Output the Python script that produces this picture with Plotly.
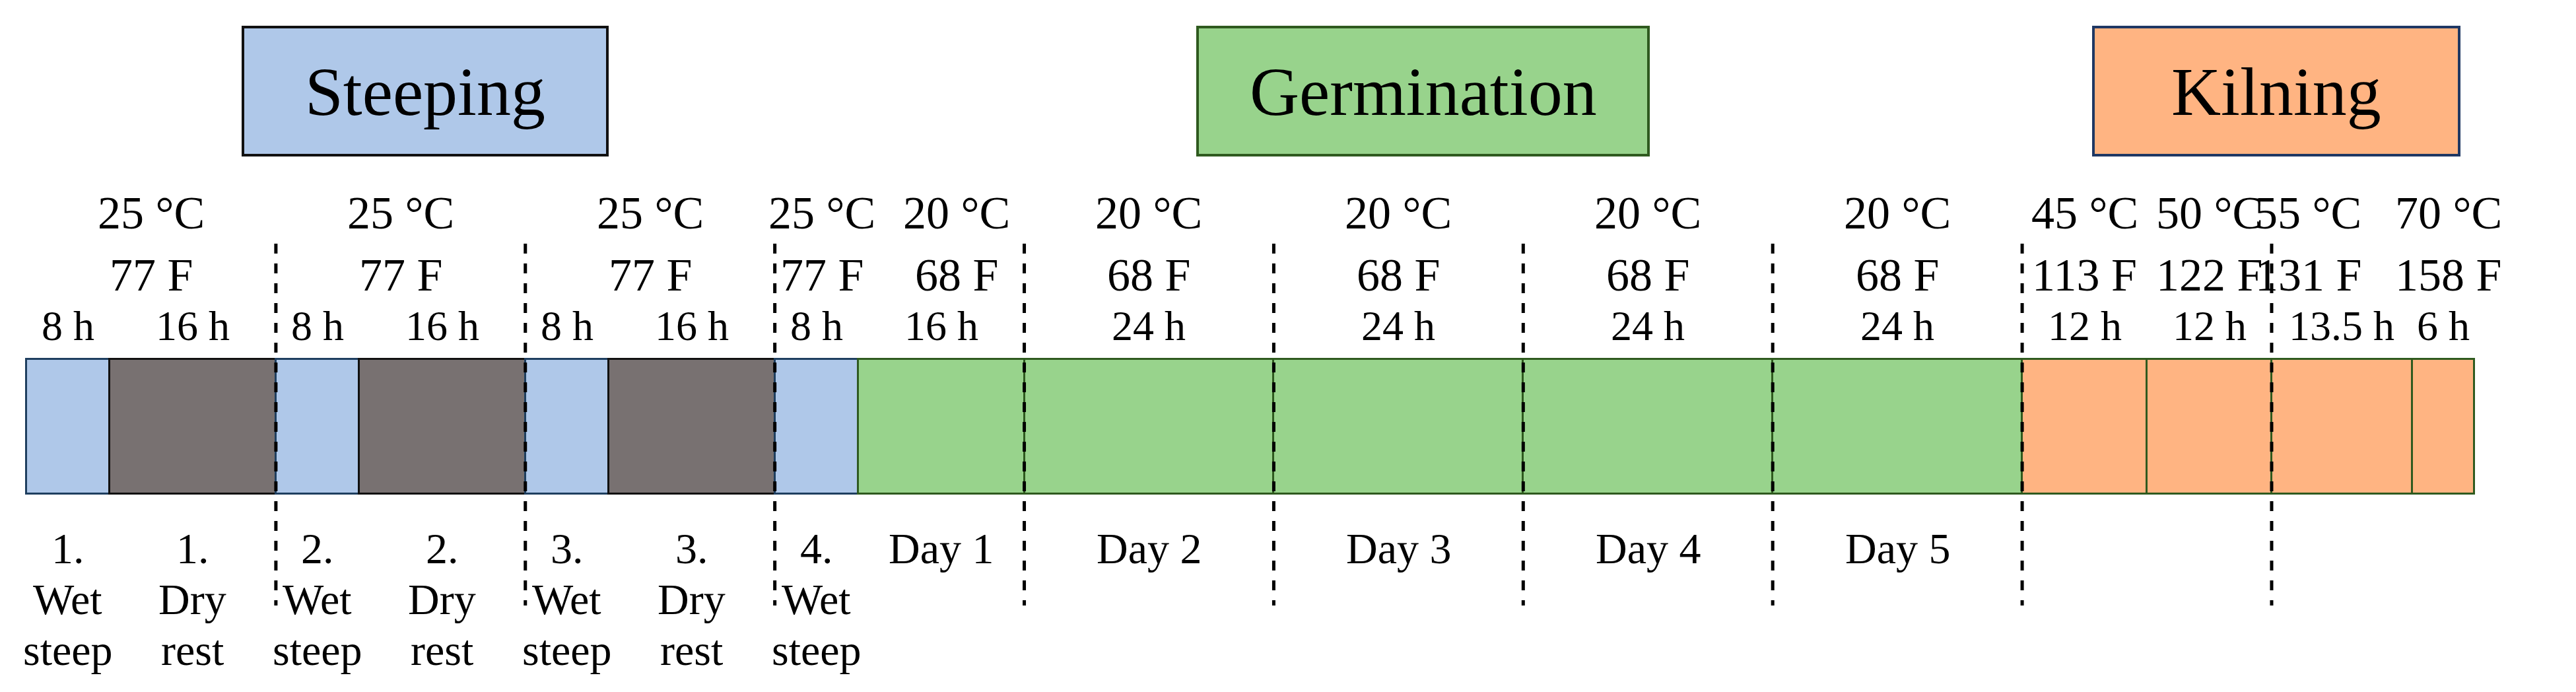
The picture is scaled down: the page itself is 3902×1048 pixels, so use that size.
import plotly.graph_objects as go

durations = [8, 16, 8, 16, 8, 16, 8, 16, 24, 24, 24, 24, 12, 12, 13.5, 6]
kinds = ["wet", "dry", "wet", "dry", "wet", "dry", "wet", "germ", "germ", "germ", "germ", "germ", "kiln", "kiln", "kiln", "kiln"]
hour_labels = ["8 h", "16 h", "8 h", "16 h", "8 h", "16 h", "8 h", "16 h", "24 h", "24 h", "24 h", "24 h", "12 h", "12 h", "13.5 h", "6 h"]
bottom_labels = [["1.", "Wet", "steep"], ["1.", "Dry", "rest"], ["2.", "Wet", "steep"], ["2.", "Dry", "rest"],
                 ["3.", "Wet", "steep"], ["3.", "Dry", "rest"], ["4.", "Wet", "steep"], ["Day 1"], ["Day 2"],
                 ["Day 3"], ["Day 4"], ["Day 5"], [], [], [], []]
# temperature labels: centre hour, °C, °F
temp_center = [12, 36, 60, 76.5, 89.5, 108, 132, 156, 180, 198, 210, 219.5, 233]
temp_c = ["25 °C", "25 °C", "25 °C", "25 °C", "20 °C", "20 °C", "20 °C", "20 °C", "20 °C", "45 °C", "50 °C", "55 °C", "70 °C"]
temp_f = ["77 F", "77 F", "77 F", "77 F", "68 F", "68 F", "68 F", "68 F", "68 F", "113 F", "122 F", "131 F", "158 F"]
divider_hours = [24, 48, 72, 96, 120, 144, 168, 192, 216]
phases = ["Steeping", "Germination", "Kilning"]

colors = {"wet": "#AFC8E9", "dry": "#787171", "germ": "#98D38C", "kiln": "#FFB482"}
edges = {"wet": "#1F3F5F", "dry": "#111111", "germ": "#2F5A1F", "kiln": "#2F5A1F"}

PX_PER_H = (3740 - 32) / 235.5
x0 = -32 / PX_PER_H
x1 = x0 + 3902 / PX_PER_H
FONT = "Liberation Serif"

fig = go.Figure()
starts = []
s = 0
for d in durations:
    starts.append(s)
    s += d
fig.add_trace(go.Bar(
    x=durations, base=starts, y=[638] * len(durations), width=204, orientation="h",
    marker=dict(color=[colors[k] for k in kinds], line=dict(color=[edges[k] for k in kinds], width=3)),
    hoverinfo="skip", showlegend=False))

ann = []
for st, d, hl, bl in zip(starts, durations, hour_labels, bottom_labels):
    c = st + d / 2
    ann.append(dict(x=c, y=485, text=hl, font=dict(size=64)))
    for i, t in enumerate(bl):
        ann.append(dict(x=c, y=822 + 77 * i, text=t, font=dict(size=66)))
for c, tc, tf in zip(temp_center, temp_c, temp_f):
    ann.append(dict(x=c, y=314, text=tc, font=dict(size=70)))
    ann.append(dict(x=c, y=408, text=tf, font=dict(size=70)))

box_px = [(360, 912, "#AFC8E9", "#111111"), (1806, 2489, "#98D38C", "#2F5A1F"), (3163, 3717, "#FFB482", "#1F3864")]
shapes = []
for name, (l, r, fc, lc) in zip(phases, box_px):
    xl = x0 + l / PX_PER_H
    xr = x0 + r / PX_PER_H
    shapes.append(dict(type="rect", x0=xl, x1=xr, y0=33, y1=227, fillcolor=fc, line=dict(color=lc, width=4), layer="below"))
    ann.append(dict(x=(xl + xr) / 2, y=130, text=name, font=dict(size=104)))
for h in divider_hours:
    shapes.append(dict(type="line", x0=h, x1=h, y0=361, y1=909, line=dict(color="black", width=5, dash="dash")))

for a in ann:
    a.update(xref="x", yref="y", showarrow=False, xanchor="center", yanchor="middle")
    a["font"].update(family=FONT, color="black")

fig.update_layout(
    width=3902, height=1048, margin=dict(l=0, r=0, t=0, b=0),
    paper_bgcolor="white", plot_bgcolor="white",
    xaxis=dict(range=[x0, x1], visible=False, fixedrange=True),
    yaxis=dict(range=[1048, 0], visible=False, fixedrange=True),
    annotations=ann, shapes=shapes, bargap=0)
fig.write_html("out.html")
